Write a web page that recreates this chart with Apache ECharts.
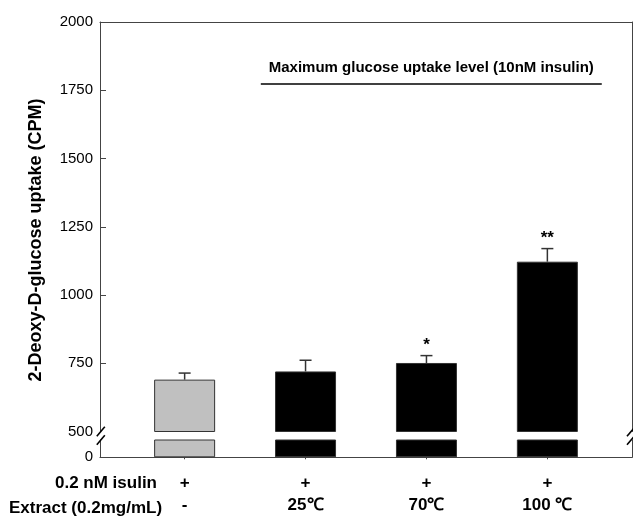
<!DOCTYPE html>
<html>
<head>
<meta charset="utf-8">
<script src="https://cdn.jsdelivr.net/npm/echarts@6/dist/echarts.min.js"></script>
<style>
  html, body { margin: 0; padding: 0; background: #fff; }
  #chart { width: 633px; height: 519px; }
</style>
</head>
<body>
<div id="chart"></div>
<script>
const insulinRow = ['+', '+', '+', '+'];
const extractRow = ['-', '25℃', '70℃', '100 ℃'];
const uptake = [690, 720, 751, 1122];
const uptakeErr = [24, 41, 27, 48];
const signif = ['', '', '*', '**'];
const barFill = ['#c0c0c0', '#000000', '#000000', '#000000'];
const upperTicks = [500, 750, 1000, 1250, 1500, 1750, 2000];
const lowerTicks = [0];
const maxUptakeLevel = 1774;
const maxLevelSpan = [0.63, 3.45];
const maxLevelText = 'Maximum glucose uptake level (10nM insulin)';
const rowTitles = ['0.2 nM isulin', 'Extract (0.2mg/mL)'];
const yTitle = '2-Deoxy-D-glucose uptake (CPM)';

const FONT = '"Liberation Sans", Arial, sans-serif';
const AXIS = '#444';
const positions = uptake.map((v, i) => i);
const barData = uptake.map((v, i) => ({
  value: [i, v],
  itemStyle: { color: barFill[i] }
}));
const errData = uptake.map((v, i) => [i, v, uptakeErr[i]]);

// grid layout (pixels)
const G = { left: 100, right: 1, upTop: 22, upH: 409.5, lowTop: 440, lowH: 17.3 };
const W = 633;

const chart = echarts.init(document.getElementById('chart'));

const slash = (x, y) => ({
  type: 'line',
  shape: { x1: x - 4, y1: y + 4.7, x2: x + 4, y2: y - 4.7 },
  style: { stroke: '#000', lineWidth: 1.6 },
  z: 10
});
const upBottom = G.upTop + G.upH;
const rightX = W - G.right;

const plainLine = { show: true, onZero: false, lineStyle: { color: AXIS, width: 1 } };

const option = {
  animation: false,
  grid: [
    { left: G.left, right: G.right, top: G.upTop, height: G.upH },
    { left: G.left, right: G.right, top: G.lowTop, height: G.lowH }
  ],
  xAxis: [
    {
      gridIndex: 0, type: 'value', min: -0.7, max: 3.7, position: 'top',
      axisLine: plainLine,
      axisTick: { show: false }, axisLabel: { show: false }, splitLine: { show: false }
    },
    {
      gridIndex: 1, type: 'value', min: -0.7, max: 3.7, position: 'bottom',
      axisLine: { show: true, onZero: false, lineStyle: { color: AXIS, width: 1.2 } },
      axisTick: { show: true, customValues: positions, length: 2, lineStyle: { color: AXIS } },
      axisLabel: {
        show: true,
        customValues: positions,
        margin: 15,
        formatter: (val) => {
          const i = Math.round(val);
          return '{a|' + insulinRow[i] + '}\n{b|' + extractRow[i] + '}';
        },
        rich: {
          a: { fontSize: 17, fontWeight: 'bold', fontFamily: FONT, color: '#000', lineHeight: 22 },
          b: { fontSize: 17, fontWeight: 'bold', fontFamily: FONT, color: '#000', lineHeight: 22 }
        }
      },
      splitLine: { show: false }
    }
  ],
  yAxis: [
    {
      gridIndex: 0, type: 'value', min: 500, max: 2000, interval: 250,
      axisLine: plainLine,
      axisTick: { show: true, inside: true, length: 6, customValues: upperTicks.slice(1), lineStyle: { color: AXIS } },
      axisLabel: {
        customValues: upperTicks, fontSize: 15, fontFamily: FONT, color: '#000', margin: 7,
        formatter: (v) => String(v)
      },
      splitLine: { show: false }
    },
    {
      gridIndex: 0, type: 'value', min: 500, max: 2000, position: 'right',
      axisLine: plainLine,
      axisTick: { show: false }, axisLabel: { show: false }, splitLine: { show: false }
    },
    {
      gridIndex: 1, type: 'value', min: 0, max: 100,
      axisLine: plainLine,
      axisTick: { show: false },
      axisLabel: {
        customValues: lowerTicks, fontSize: 15, fontFamily: FONT, color: '#000', margin: 7,
        formatter: (v) => String(v)
      },
      splitLine: { show: false }
    },
    {
      gridIndex: 1, type: 'value', min: 0, max: 100, position: 'right',
      axisLine: plainLine,
      axisTick: { show: false }, axisLabel: { show: false }, splitLine: { show: false }
    }
  ],
  series: [
    {
      type: 'bar', xAxisIndex: 0, yAxisIndex: 0, barWidth: 61, clip: true,
      itemStyle: { borderColor: '#333', borderWidth: 1 },
      data: barData,
      markLine: {
        silent: true,
        symbol: 'none',
        lineStyle: { color: '#000', width: 1.6, type: 'solid' },
        label: {
          show: true, position: 'insideMiddleTop', distance: 8,
          formatter: maxLevelText,
          fontSize: 15, fontWeight: 'bold', fontFamily: FONT, color: '#000'
        },
        data: [[
          { coord: [maxLevelSpan[0], maxUptakeLevel] },
          { coord: [maxLevelSpan[1], maxUptakeLevel] }
        ]]
      }
    },
    {
      type: 'bar', xAxisIndex: 1, yAxisIndex: 2, barWidth: 61, clip: true,
      itemStyle: { borderColor: '#333', borderWidth: 1 },
      data: barData
    },
    {
      type: 'custom', xAxisIndex: 0, yAxisIndex: 0, z: 5,
      data: errData,
      renderItem: (params, api) => {
        const x = api.value(0), v = api.value(1), e = api.value(2);
        const base = api.coord([x, v]);
        const top = api.coord([x, v + e]);
        const st = { stroke: '#333', lineWidth: 1.5 };
        return {
          type: 'group',
          children: [
            { type: 'line', shape: { x1: base[0], y1: base[1], x2: top[0], y2: top[1] }, style: st },
            { type: 'line', shape: { x1: top[0] - 6, y1: top[1], x2: top[0] + 6, y2: top[1] }, style: st },
            {
              type: 'text', x: top[0], y: top[1] - 2,
              style: {
                text: signif[params.dataIndex], fontSize: 17, fontWeight: 'bold', fontFamily: FONT,
                fill: '#000', textAlign: 'center', textVerticalAlign: 'bottom'
              }
            }
          ]
        };
      }
    }
  ],
  graphic: [
    slash(G.left + 0.8, upBottom), slash(G.left + 0.8, G.lowTop),
    slash(rightX - 1, upBottom), slash(rightX - 1, G.lowTop),
    {
      type: 'text', x: 36, y: 240, rotation: Math.PI / 2,
      style: {
        text: yTitle, fontSize: 18, fontWeight: 'bold', fontFamily: FONT, fill: '#000',
        textAlign: 'center', textVerticalAlign: 'middle'
      }
    },
    {
      type: 'text', x: 157, y: 483,
      style: {
        text: rowTitles[0], fontSize: 17, fontWeight: 'bold', fontFamily: FONT, fill: '#000',
        textAlign: 'right', textVerticalAlign: 'middle'
      }
    },
    {
      type: 'text', x: 9, y: 508,
      style: {
        text: rowTitles[1], fontSize: 17, fontWeight: 'bold', fontFamily: FONT, fill: '#000',
        textAlign: 'left', textVerticalAlign: 'middle'
      }
    }
  ]
};

chart.setOption(option);
</script>
</body>
</html>
